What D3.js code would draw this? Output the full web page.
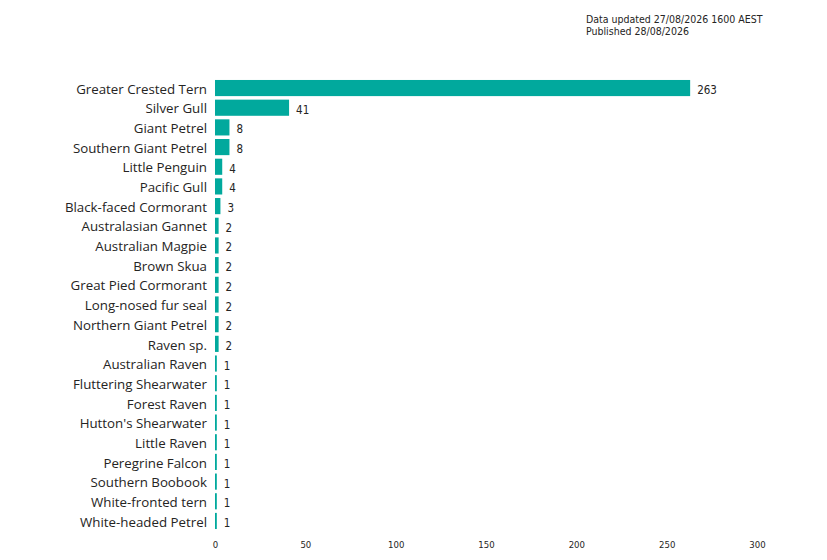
<!DOCTYPE html>
<html>
<head>
<meta charset="utf-8">
<script src="https://cdn.jsdelivr.net/npm/d3@7"></script>
<style>
  html, body { margin: 0; padding: 0; background: #fff; }
  svg { display: block; }
</style>
</head>
<body>
<svg id="chart" width="827" height="560"></svg>
<script>
const categories = [
  "Greater Crested Tern", "Silver Gull", "Giant Petrel", "Southern Giant Petrel",
  "Little Penguin", "Pacific Gull", "Black-faced Cormorant", "Australasian Gannet",
  "Australian Magpie", "Brown Skua", "Great Pied Cormorant", "Long-nosed fur seal",
  "Northern Giant Petrel", "Raven sp.", "Australian Raven", "Fluttering Shearwater",
  "Forest Raven", "Hutton's Shearwater", "Little Raven", "Peregrine Falcon",
  "Southern Boobook", "White-fronted tern", "White-headed Petrel"
];
const values = [263, 41, 8, 8, 4, 4, 3, 2, 2, 2, 2, 2, 2, 2, 1, 1, 1, 1, 1, 1, 1, 1, 1];
const xTicks = [0, 50, 100, 150, 200, 250, 300];
const notes = ["Data updated 27/08/2026 1600 AEST", "Published 28/08/2026"];

const svg = d3.select("#chart");
const barColor = "#01A99D";

const x = d3.scaleLinear().domain([0, 300]).range([215, 757]);
const y = d3.scaleBand().domain(categories).range([78.2, 530.8])
  .paddingInner(0.18).paddingOuter(0.09);

// bars
svg.append("g").selectAll("rect").data(categories).join("rect")
  .attr("x", x(0))
  .attr("y", d => y(d))
  .attr("width", (d, i) => x(values[i]) - x(0))
  .attr("height", y.bandwidth())
  .attr("fill", barColor);

// category labels
svg.append("g").selectAll("text").data(categories).join("text")
  .attr("x", 207)
  .attr("y", d => y(d) + y.bandwidth() / 2 + 1)
  .attr("dy", "0.35em")
  .attr("text-anchor", "end")
  .style("font-family", "'Open Sans', sans-serif")
  .style("font-size", "13.3px")
  .attr("fill", "#252423")
  .text(d => d);

// value labels
svg.append("g").selectAll("text").data(categories).join("text")
  .attr("x", (d, i) => x(values[i]) + 7)
  .attr("y", d => y(d) + y.bandwidth() / 2 + 2)
  .attr("dy", "0.35em")
  .style("font-family", "'DejaVu Sans Condensed', 'DejaVu Sans', sans-serif")
  .style("font-size", "11.5px")
  .attr("fill", "#252423")
  .text((d, i) => values[i]);

// x axis
const axis = d3.axisBottom(x).tickValues(xTicks).tickSize(0).tickPadding(0);
const gx = svg.append("g").attr("transform", "translate(0,541)").call(axis);
gx.select(".domain").remove();
gx.selectAll("text")
  .style("font-family", "'DejaVu Sans Condensed', 'DejaVu Sans', sans-serif")
  .style("font-size", "9.5px")
  .attr("fill", "#252423");

// notes
svg.append("g").selectAll("text").data(notes).join("text")
  .attr("x", 586)
  .attr("y", (d, i) => 23 + i * 12)
  .style("font-family", "'DejaVu Sans Condensed', 'DejaVu Sans', sans-serif")
  .style("font-size", "10.5px")
  .attr("fill", "#252423")
  .text(d => d);
</script>
</body>
</html>
